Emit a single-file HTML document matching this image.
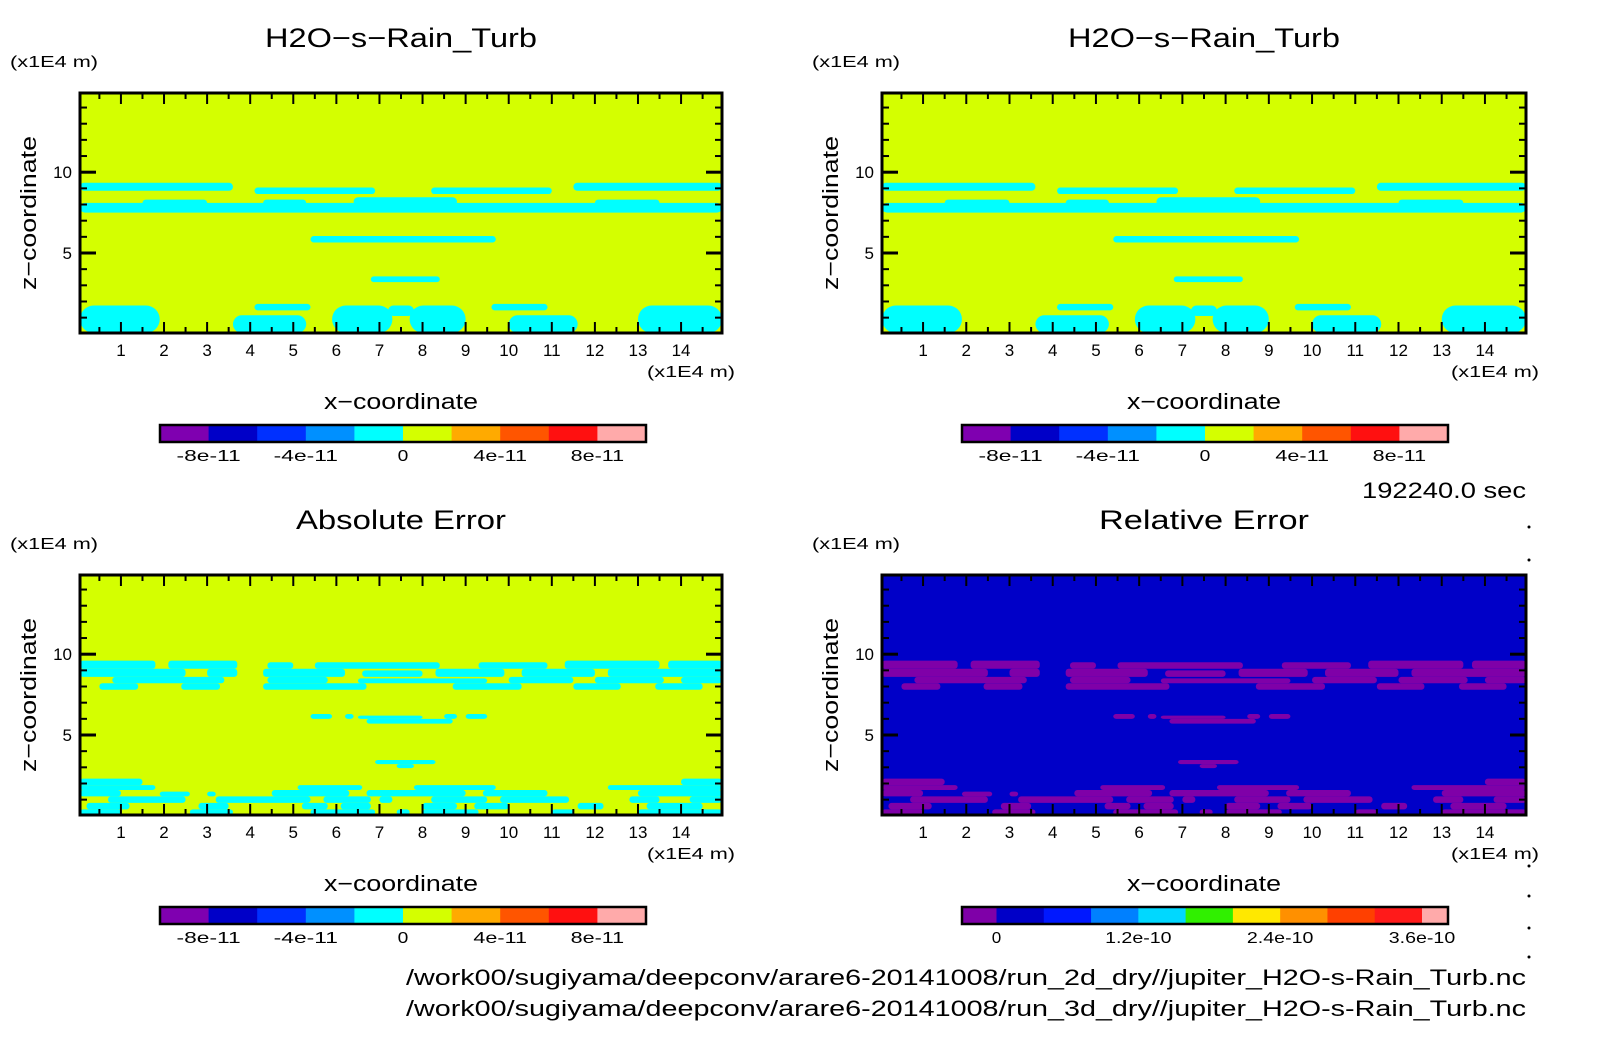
<!DOCTYPE html>
<html><head><meta charset="utf-8"><style>
body{margin:0;background:#fff}
svg{display:block;font-family:"Liberation Sans",sans-serif}
</style></head><body>
<svg id="fig" width="1604" height="1054" viewBox="0 0 1604 1054" xmlns="http://www.w3.org/2000/svg">
<rect width="1604" height="1054" fill="#fff"/>
<g id="root"></g>
</svg>
<script>
// ---- data (x, z in 1E4 m; blobs are [x0,x1,z0,z1]) ----
const xTicks = [1,2,3,4,5,6,7,8,9,10,11,12,13,14];
const zTicks = [5,10];
const xDomain = [0.05,14.95];
const zDomain = [0.05,14.9];
const absCbLabels = ['-8e-11','-4e-11','0','4e-11','8e-11'];
const absCbLabelIdx = [1,3,5,7,9];
const absColors = ['#7f00b0','#0000c8','#0030ff','#0090ff','#00ffff','#d4ff00','#ffaa00','#ff5500','#ff1010','#ffaaaa'];
const relCbLabels = ['0','1.2e-10','2.4e-10','3.6e-10'];
const relCbLabelIdx = [1,4,7,10];
const relColors = ['#7f00a8','#0000c8','#0018ff','#0080ff','#00d8ff','#30f000','#ffe800','#ff9000','#ff4000','#ff1a1a','#ffaaaa'];
const fieldBlobs = [
 [0.05,3.6,8.85,9.35],[4.1,6.9,8.65,9.05],[8.2,11.0,8.65,9.05],[11.5,14.95,8.85,9.35],
 [0.05,14.95,7.5,8.1],[1.5,3.0,7.9,8.3],[4.3,5.3,7.9,8.3],[6.4,8.8,7.9,8.45],[12.0,13.5,7.9,8.3],
 [5.4,9.7,5.65,6.05],[6.8,8.4,3.2,3.55],[4.1,5.4,1.45,1.85],[9.6,10.9,1.45,1.85],
 [0.05,1.9,0.05,1.75],[3.6,5.3,0.05,1.15],[5.9,7.3,0.05,1.75],[7.7,9.0,0.05,1.75],[7.2,7.8,1.1,1.75],[10.0,11.6,0.05,1.15],[13.0,14.95,0.05,1.75]
];
const errBlobs = [
 [0.05,1.8,9.1,9.6],[2.1,3.7,9.1,9.6],[4.4,5.0,9.1,9.5],[5.5,8.4,9.1,9.5],[9.3,10.9,9.1,9.5],[11.3,13.5,9.1,9.6],[13.7,14.95,9.1,9.6],
 [0.05,2.5,8.6,9.1],[3.0,3.7,8.6,9.1],[4.3,6.2,8.6,9.1],[6.6,8.0,8.6,9.0],[8.3,9.9,8.6,9.1],[10.3,12.0,8.6,9.1],[12.3,14.95,8.6,9.1],
 [0.8,3.4,8.2,8.6],[4.4,5.8,8.2,8.6],[6.5,9.5,8.2,8.5],[10.0,11.5,8.2,8.6],[12.0,13.6,8.2,8.6],[14.0,14.95,8.2,8.6],
 [0.5,1.4,7.8,8.2],[2.4,3.3,7.8,8.2],[4.3,6.7,7.8,8.2],[8.7,10.3,7.8,8.2],[11.5,12.6,7.8,8.2],[13.4,14.5,7.8,8.2],
 [5.4,5.9,6.0,6.3],[6.2,6.4,6.0,6.3],[6.5,8.0,6.0,6.2],[8.5,8.8,6.0,6.3],[9.0,9.5,6.0,6.3],[6.7,8.7,5.7,6.0],
 [6.9,8.3,3.2,3.45],[7.4,7.8,2.95,3.2],
 [0.05,1.5,1.9,2.3],[14.0,14.95,1.9,2.3],
 [0.05,1.8,1.6,1.9],[5.1,6.6,1.6,1.9],[7.8,9.7,1.6,1.9],[12.3,14.95,1.6,1.9],
 [0.05,1.0,1.2,1.6],[1.9,2.6,1.2,1.5],[3.0,3.2,1.2,1.5],[4.5,6.3,1.2,1.6],[6.7,9.0,1.2,1.6],[9.4,10.9,1.2,1.6],[13.0,14.95,1.2,1.6],
 [0.7,2.5,0.8,1.2],[3.2,5.4,0.8,1.2],[5.7,6.8,0.8,1.2],[7.0,7.3,0.8,1.2],[8.2,9.5,0.8,1.2],[9.8,11.4,0.8,1.2],[12.8,13.5,0.8,1.2],[14.2,14.95,0.8,1.2],
 [0.2,1.2,0.4,0.8],[2.8,3.5,0.4,0.8],[5.2,5.8,0.4,0.8],[6.1,6.8,0.4,0.8],[8.0,8.8,0.4,0.8],[9.2,10.0,0.4,0.8],[11.6,12.2,0.4,0.8],[13.2,14.5,0.4,0.8],
 [0.05,1.0,0.05,0.4],[2.6,3.6,0.05,0.4],[5.4,6.9,0.05,0.4],[7.4,7.7,0.05,0.4],[8.0,9.3,0.05,0.4],[11.0,11.5,0.05,0.4],[13.0,14.95,0.05,0.4]
];
const paths = ['/work00/sugiyama/deepconv/arare6-20141008/run_2d_dry//jupiter_H2O-s-Rain_Turb.nc','/work00/sugiyama/deepconv/arare6-20141008/run_3d_dry//jupiter_H2O-s-Rain_Turb.nc'];

const NS='http://www.w3.org/2000/svg';
const root=document.getElementById('root');
function mk(tag,attrs,parent){const e=document.createElementNS(NS,tag);for(const k in attrs)e.setAttribute(k,attrs[k]);(parent||root).appendChild(e);return e;}
function txt(s,x,y,size,anchor,parent,len){const a={x:x,y:y,'font-size':size,'text-anchor':anchor||'middle',fill:'#000'};
  if(len){a.textLength=len;a.lengthAdjust='spacingAndGlyphs';}
  const t=mk('text',a,parent);t.textContent=s;return t;}

function panel(name,px0,py0,px1,py1,title,bg,fg,blobs,round,cbColors,cbLabels,cbIdx,cbWidths,cbLabW){
  const g=mk('g',{});
  
  
  const sx=v=>px0+(v-xDomain[0])/(xDomain[1]-xDomain[0])*(px1-px0);
  const sz=v=>py1-(v-zDomain[0])/(zDomain[1]-zDomain[0])*(py1-py0);
  const cx=(px0+px1)/2;
  const t=txt(title,cx,py0-46,27,'middle',g,title[0]==='H'?272:(title.length*15));
  
  
  const u=txt('(x1E4 m)',px0-70,py0-26,16,'start',g,88);
  
  
  const clipId=name+'-clip';
  const cp=mk('clipPath',{id:clipId},g);mk('rect',{x:px0,y:py0,width:px1-px0,height:py1-py0},cp);
  const bgR=mk('rect',{x:px0,y:py0,width:px1-px0,height:py1-py0,fill:bg},g);
  
  
  const fg2=mk('g',{'clip-path':'url(#'+clipId+')'},g);
  blobs.forEach(b=>{
    const h=sz(b[2])-sz(b[3]);
    const r=mk('rect',{x:sx(b[0]),y:sz(b[3]),width:sx(b[1])-sx(b[0]),height:h,rx:round?Math.min(h/2,14):3,fill:fg},fg2);
    
    
  });
  for(let v=0.5;v<15;v+=0.5){
    const major=Number.isInteger(v);const L=major?11:6;const x=sx(v);
    mk('line',{x1:x,y1:py0,x2:x,y2:py0+L,stroke:'#000','stroke-width':2},g);
    mk('line',{x1:x,y1:py1,x2:x,y2:py1-L,stroke:'#000','stroke-width':2},g);
  }
  for(let v=1;v<15;v+=1){
    const major=v%5===0;const L=major?16:7;const y=sz(v);
    mk('line',{x1:px0,y1:y,x2:px0+L,y2:y,stroke:'#000','stroke-width':major?3:2},g);
    mk('line',{x1:px1,y1:y,x2:px1-L,y2:y,stroke:'#000','stroke-width':major?3:2},g);
  }
  const fr=mk('rect',{x:px0,y:py0,width:px1-px0,height:py1-py0,fill:'none',stroke:'#000','stroke-width':3},g);
  
  
  xTicks.forEach(v=>{const l=txt(String(v),sx(v),py1+23,17,'middle',g);
    
    });
  zTicks.forEach(v=>{const l=txt(String(v),px0-8,sz(v)+6,17,'end',g);
    
    });
  const xu=txt('(x1E4 m)',px1-31,py1+44,16,'middle',g,88);
  
  
  const xt=txt('x\u2212coordinate',cx,py1+76,22,'middle',g,154);
  
  
  const zt=mk('text',{x:0,y:0,'font-size':22,'text-anchor':'middle',textLength:154,lengthAdjust:'spacingAndGlyphs',transform:'translate('+(px0-44)+','+((py0+py1)/2)+') rotate(-90)'},g);
  zt.textContent='z\u2212coordinate';
  
  
  const cb=mk('g',{},g);
  
  
  const cbx=px0+80, cby=py1+92, cbw=486, cbh=17;
  const tot=cbWidths.reduce((a,b)=>a+b,0);let acc=0;const bounds=[];
  cbColors.forEach((c,i)=>{const x=cbx+acc/tot*cbw;const w=cbWidths[i]/tot*cbw;
    const r=mk('rect',{x:x,y:cby,width:w+0.5,height:cbh,fill:c},cb);
    
    
    acc+=cbWidths[i];bounds.push(cbx+acc/tot*cbw);});
  mk('rect',{x:cbx,y:cby,width:cbw,height:cbh,fill:'none',stroke:'#000','stroke-width':2.5},cb);
  cbLabels.forEach((s,i)=>{const l=txt(s,bounds[cbIdx[i]-1],cby+36,16,'middle',cb,s.length*cbLabW);
    
    });
}
const eq10=[1,1,1,1,1,1,1,1,1,1];
const rel11=[0.73,1,1,1,1,1,1,1,1,1,0.55];
panel('panel-top-left',80,93,722,333,'H2O\u2212s\u2212Rain_Turb','#d4ff00','#00ffff',fieldBlobs,true,absColors,absCbLabels,absCbLabelIdx,eq10,10.7);
panel('panel-top-right',882,93,1526,333,'H2O\u2212s\u2212Rain_Turb','#d4ff00','#00ffff',fieldBlobs,true,absColors,absCbLabels,absCbLabelIdx,eq10,10.7);
panel('panel-absolute-error',80,575,722,815,'Absolute Error','#d4ff00','#00ffff',errBlobs,false,absColors,absCbLabels,absCbLabelIdx,eq10,10.7);
panel('panel-relative-error',882,575,1526,815,'Relative Error','#0000c8','#7f00a8',errBlobs,false,relColors,relCbLabels,relCbLabelIdx,rel11,9.5);

const tm=txt('192240.0 sec',1526,498,22,'end',root,164);


paths.forEach((p,i)=>{const l=txt(p,1526,985+i*31,22,'end',root,1120);
  
  });
[527,560,866,896,928,957].forEach(y=>{mk('circle',{cx:1529,cy:y,r:1.5,fill:'#000'});});
</script>
</body></html>
